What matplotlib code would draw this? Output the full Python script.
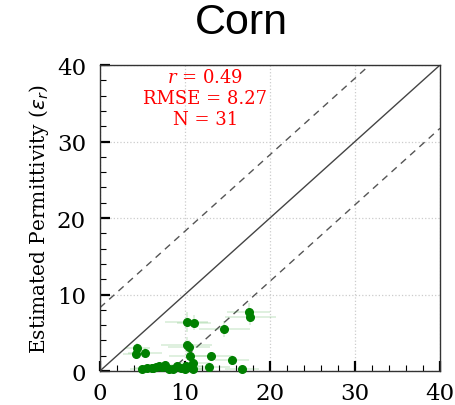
import matplotlib
matplotlib.use("Agg")
import matplotlib.pyplot as plt
import numpy as np
from matplotlib.ticker import MultipleLocator

# Data (measured vs estimated permittivity)
measured = [17.5, 17.7, 10.2, 11.1, 14.6, 4.4, 4.2, 5.3, 10.2, 10.5,
            10.6, 10.9, 13.1, 15.5, 12.8, 16.7, 10.1, 9.1, 9.5, 7.7,
            6.9, 6.6, 6.1, 5.5, 5.0, 10.9, 8.1, 6.3, 7.3, 8.6, 10.0]
estimated = [7.7, 7.0, 6.4, 6.3, 5.5, 3.0, 2.2, 2.4, 3.4, 3.2,
             2.0, 1.1, 1.9, 1.4, 0.5, 0.2, 0.6, 0.7, 0.35, 0.8,
             0.6, 0.5, 0.35, 0.35, 0.25, 0.2, 0.25, 0.4, 0.5, 0.3, 0.25]
x_err = [2.5, 3.0, 2.5, 2.0, 3.0, 1.5, 1.5, 2.0, 3.0, 2.5,
         2.5, 2.0, 2.5, 2.0, 2.5, 2.0, 2.0, 2.0, 2.0, 2.0,
         2.0, 1.5, 1.5, 1.5, 1.5, 2.0, 2.0, 1.5, 2.0, 2.0, 2.0]
y_err = [1.2, 1.0, 1.3, 1.0, 1.0, 0.6, 0.6, 0.6, 1.0, 0.8,
         0.8, 0.6, 0.6, 0.6, 0.4, 0.3, 0.4, 0.4, 0.3, 0.5,
         0.4, 0.4, 0.3, 0.3, 0.2, 0.3, 0.3, 0.3, 0.4, 0.3, 0.3]
r_val = 0.49
rmse = 8.27
n_pts = 31
title = "Corn"
ylabel = r"Estimated Permittivity ($\varepsilon_r$)"
ticks = [0, 10, 20, 30, 40]

fig = plt.figure(figsize=(4.56, 4.06), dpi=100)
ax = fig.add_axes([0.219, 0.0837, 0.746, 0.7537])

lim = [0, 40]
ax.plot(lim, lim, color="#444444", lw=1.0, zorder=2)
ax.plot(lim, [lim[0] + rmse, lim[1] + rmse], color="#555555", lw=1.0, ls=(0, (5, 4)), zorder=2)
ax.plot(lim, [lim[0] - rmse, lim[1] - rmse], color="#555555", lw=1.0, ls=(0, (5, 4)), zorder=2)

ax.errorbar(measured, estimated, xerr=x_err, yerr=y_err, fmt="none",
            ecolor="#2ca02c", alpha=0.18, elinewidth=1.2, zorder=3)
ax.plot(measured, estimated, "o", color="#008000", ms=5.5, zorder=4, clip_on=False)

ax.set_xlim(lim)
ax.set_ylim(lim)
ax.set_xticks(ticks)
ax.set_yticks(ticks)
ax.xaxis.set_minor_locator(MultipleLocator(2))
ax.yaxis.set_minor_locator(MultipleLocator(2))
ax.tick_params(which="major", direction="in", length=7, width=1.6, labelsize=16.5,
               colors="black")
ax.tick_params(axis="y", which="major", pad=10)
ax.tick_params(axis="x", which="major", pad=8)
ax.tick_params(which="minor", direction="in", length=4, width=0.8)
for lab in ax.get_xticklabels() + ax.get_yticklabels():
    lab.set_family("DejaVu Serif")
ax.grid(True, which="major", ls=":", color="#cccccc", lw=0.9)
for s in ax.spines.values():
    s.set_color("#333333")
    s.set_linewidth(1.0)

ax.set_ylabel(ylabel, family="DejaVu Serif", fontsize=14.5, labelpad=4)

ax.text(0.31, 0.99, f"$r$ = {r_val:.2f}\nRMSE = {rmse:.2f}\nN = {n_pts}",
        transform=ax.transAxes, ha="center", va="top", color="red",
        family="DejaVu Serif", fontsize=13, linespacing=1.22,
        math_fontfamily="dejavuserif")

fig.text(0.53, 0.943, title, ha="center", va="center", fontsize=31, family="Liberation Sans")

fig.savefig("out.png", dpi=100)
